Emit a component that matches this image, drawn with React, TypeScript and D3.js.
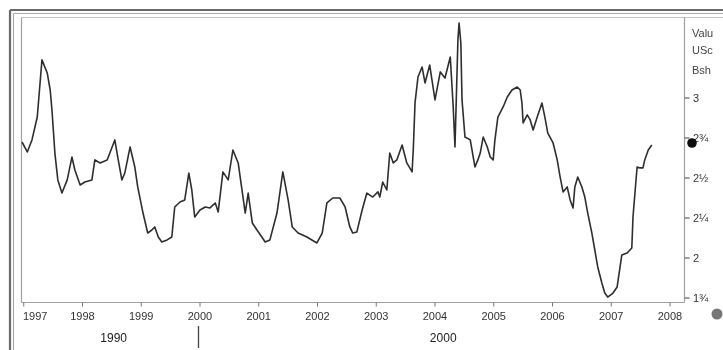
import React from "react";
import * as d3 from "d3";

const years: number[] = [
  1996.97, 1997.06, 1997.14, 1997.23, 1997.31, 1997.4, 1997.45, 1997.48, 1997.5, 1997.53,
  1997.58, 1997.65, 1997.74, 1997.82, 1997.87, 1997.96, 1998.04, 1998.16, 1998.21, 1998.3,
  1998.42, 1998.55, 1998.6, 1998.67, 1998.72, 1998.81, 1998.89, 1998.94, 1999.03, 1999.11,
  1999.18, 1999.23, 1999.29, 1999.35, 1999.44, 1999.52, 1999.57, 1999.66, 1999.74, 1999.81,
  1999.86, 1999.91, 2000.0, 2000.09, 2000.17, 2000.26, 2000.31, 2000.39, 2000.48, 2000.56,
  2000.65, 2000.77, 2000.82, 2000.89, 2000.97, 2001.11, 2001.19, 2001.31, 2001.41, 2001.5,
  2001.57, 2001.67, 2001.82, 2001.99, 2002.08, 2002.16, 2002.26, 2002.38, 2002.47, 2002.55,
  2002.6, 2002.67, 2002.76, 2002.84, 2002.94, 2003.03, 2003.06, 2003.11, 2003.18, 2003.23,
  2003.29, 2003.35, 2003.44, 2003.52, 2003.61, 2003.63, 2003.66, 2003.71, 2003.78, 2003.83,
  2003.91, 2004.0, 2004.09, 2004.17, 2004.26, 2004.31, 2004.34, 2004.39, 2004.41, 2004.44,
  2004.46, 2004.51, 2004.6, 2004.68, 2004.73, 2004.77, 2004.82, 2004.89, 2004.94, 2004.99,
  2005.02, 2005.07, 2005.16, 2005.23, 2005.31, 2005.4, 2005.45, 2005.48, 2005.5, 2005.57,
  2005.62, 2005.67, 2005.74, 2005.82, 2005.87, 2005.92, 2006.01, 2006.08, 2006.13, 2006.18,
  2006.25, 2006.3, 2006.35, 2006.38, 2006.43, 2006.5, 2006.55, 2006.6, 2006.67, 2006.72,
  2006.77, 2006.84, 2006.89, 2006.94, 2007.03, 2007.1, 2007.15, 2007.18, 2007.27, 2007.35,
  2007.37, 2007.44, 2007.49, 2007.54, 2007.57, 2007.63, 2007.69,
];

const values: number[] = [
  2.725, 2.663, 2.738, 2.881, 3.238, 3.156, 3.05, 2.925, 2.819, 2.656,
  2.488, 2.406, 2.488, 2.631, 2.55, 2.456, 2.475, 2.488, 2.613, 2.594,
  2.613, 2.738, 2.631, 2.488, 2.531, 2.694, 2.569, 2.444, 2.281, 2.156,
  2.175, 2.194, 2.131, 2.1, 2.113, 2.131, 2.319, 2.35, 2.363, 2.531,
  2.425, 2.256, 2.3, 2.319, 2.313, 2.344, 2.288, 2.538, 2.488, 2.675,
  2.594, 2.281, 2.406, 2.219, 2.175, 2.1, 2.113, 2.281, 2.538, 2.363,
  2.194, 2.156, 2.131, 2.094, 2.156, 2.344, 2.375, 2.375, 2.319, 2.194,
  2.156, 2.163, 2.3, 2.406, 2.381, 2.413, 2.381, 2.475, 2.425, 2.656,
  2.594, 2.613, 2.706, 2.594, 2.538, 2.675, 2.969, 3.131, 3.194, 3.094,
  3.206, 2.988, 3.163, 3.125, 3.256, 2.944, 2.694, 3.363, 3.469, 3.344,
  2.988, 2.756, 2.738, 2.569, 2.613, 2.656, 2.756, 2.694, 2.631, 2.613,
  2.738, 2.881, 2.944, 3.006, 3.05, 3.069, 3.05, 2.969, 2.844, 2.894,
  2.863, 2.8, 2.881, 2.969, 2.881, 2.781, 2.719, 2.613, 2.506, 2.413,
  2.444, 2.363, 2.313, 2.444, 2.506, 2.444, 2.381, 2.281, 2.156, 2.05,
  1.944, 1.844, 1.781, 1.756, 1.781, 1.819, 1.944, 2.019, 2.031, 2.063,
  2.256, 2.569, 2.563, 2.563, 2.613, 2.675, 2.706,
];

const xTickYears: number[] = [1997, 1998, 1999, 2000, 2001, 2002, 2003, 2004, 2005, 2006, 2007, 2008];
const xTickLabels: string[] = ["1997", "1998", "1999", "2000", "2001", "2002", "2003", "2004", "2005", "2006", "2007", "2008"];
const yTickValues: number[] = [3, 2.75, 2.5, 2.25, 2, 1.75];
const yTickLabels: string[] = ["3", "2¾", "2½", "2¼", "2", "1¾"];
const legendTexts: string[] = ["Valu", "USc", "Bsh"];
const decadeLabels: string[] = ["1990", "2000"];
const decadeYears: number[] = [1998.53, 2004.14];

export default function App() {
  const x = d3.scaleLinear().domain([2000, 2008]).range([200, 670]);
  const y = d3.scaleLinear().domain([2, 3]).range([258, 98]);
  const left = 21.5, right = 684.5, top = 17.5, bottom = 302.5;

  const pts = years.map((yr, i) => [yr, values[i]] as [number, number]);
  const line = d3
    .line<[number, number]>()
    .x((d) => x(d[0]))
    .y((d) => y(d[1]));

  const font = "Arial, 'Liberation Sans', Helvetica, sans-serif";

  return (
    <svg
      width={723}
      height={350}
      style={{ position: "absolute", left: 0, top: 0, background: "#fff" }}
      fontFamily={font}
    >
      <defs>
        <filter id="soft" x="-5%" y="-5%" width="110%" height="110%">
          <feGaussianBlur stdDeviation={0.45} />
        </filter>
      </defs>
      <rect x={0} y={0} width={723} height={350} fill="#fff" />
      <g filter="url(#soft)">
        {/* outer double frame */}
        <line x1={10} y1={10} x2={10} y2={350} stroke="#6a6a6a" strokeWidth={2.2} />
        <line x1={13.5} y1={13.5} x2={13.5} y2={350} stroke="#aaa" strokeWidth={1.2} />
        <line x1={10} y1={10} x2={723} y2={10} stroke="#6a6a6a" strokeWidth={2.2} />
        <line x1={13.5} y1={13.5} x2={723} y2={13.5} stroke="#aaa" strokeWidth={1.2} />
        {/* inner frame */}
        <line x1={left} y1={top} x2={723} y2={top} stroke="#c4c4c4" strokeWidth={1.2} />
        <line x1={left} y1={top} x2={left} y2={bottom} stroke="#a0a0a0" strokeWidth={1.2} />
        <line x1={left} y1={bottom} x2={right} y2={bottom} stroke="#a0a0a0" strokeWidth={1.2} />
        <line x1={right} y1={top} x2={right} y2={bottom} stroke="#a0a0a0" strokeWidth={1.2} />

        {/* right axis ticks */}
        {yTickValues.map((v, i) => (
          <g key={"yt" + i}>
            <line x1={right} y1={y(v)} x2={right + 5} y2={y(v)} stroke="#555" strokeWidth={1.1} />
            <text x={693} y={y(v)} dy="0.35em" fontSize={11} fill="#333">
              {yTickLabels[i]}
            </text>
          </g>
        ))}

        {/* legend texts */}
        {legendTexts.map((t, i) => (
          <text key={"lg" + i} x={692} y={[33, 50, 70][i]} dy="0.35em" fontSize={11} fill="#444">
            {t}
          </text>
        ))}

        {/* bottom axis ticks */}
        {xTickYears.map((yr, i) => (
          <g key={"xt" + i}>
            <line x1={x(yr)} y1={bottom} x2={x(yr)} y2={bottom + 4} stroke="#777" strokeWidth={1} />
            <text
              x={i === 0 ? 23 : x(yr)}
              y={320}
              fontSize={11}
              fill="#333"
              textAnchor={i === 0 ? "start" : "middle"}
            >
              {xTickLabels[i]}
            </text>
          </g>
        ))}

        {/* decade labels */}
        {decadeLabels.map((t, i) => (
          <text key={"dc" + i} x={x(decadeYears[i])} y={342} fontSize={12} fill="#222" textAnchor="middle">
            {t}
          </text>
        ))}
        <line x1={198.5} y1={326} x2={198.5} y2={348} stroke="#444" strokeWidth={1.3} />

        {/* series line */}
        <path d={line(pts) || ""} fill="none" stroke="#2e2e2e" strokeWidth={1.6} strokeLinejoin="round" />

        {/* markers */}
        <circle cx={692} cy={143} r={4.8} fill="#111" />
        <circle cx={717} cy={314} r={5.5} fill="#777" />
      </g>
    </svg>
  );
}
